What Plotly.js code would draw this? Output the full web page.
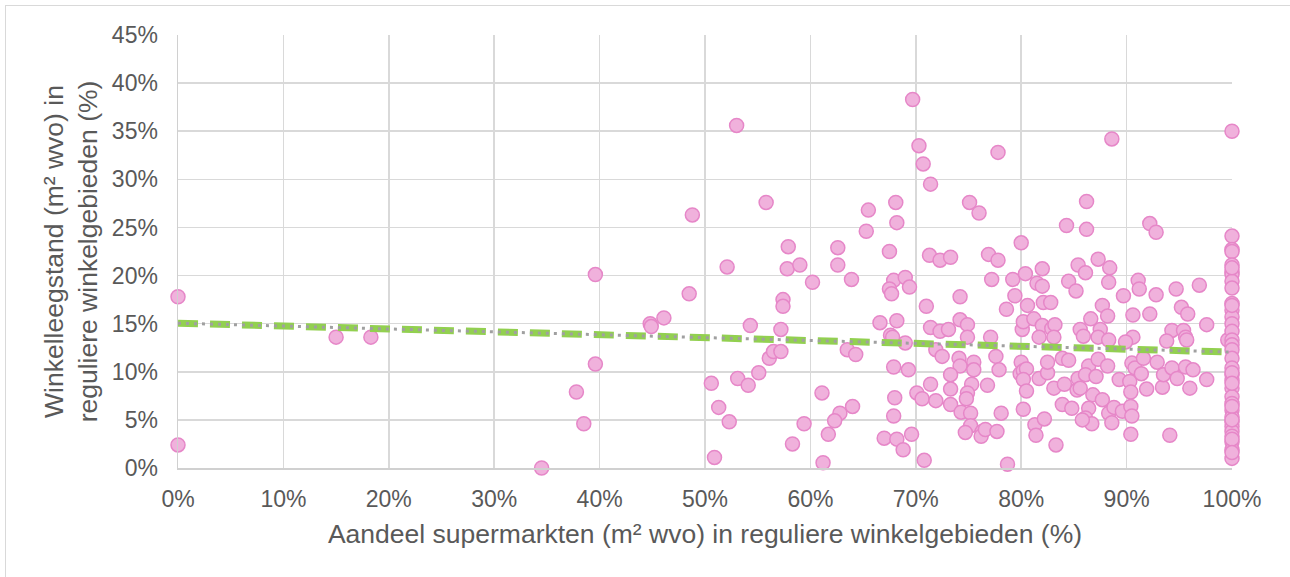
<!DOCTYPE html>
<html>
<head>
<meta charset="utf-8">
<script src="https://cdn.plot.ly/plotly-3.0.1.min.js"></script>
<style>
  html, body { margin: 0; padding: 0; background: #ffffff; }
  #frame { position: absolute; left: 5px; top: 5px; width: 1300px; height: 600px; border: 1.5px solid #d9d9d9; box-sizing: border-box; }
  #chart { position: absolute; left: 0; top: 0; width: 1290px; height: 577px; }
</style>
</head>
<body>
<div id="frame"></div>
<div id="chart"></div>
<script>
// Share of supermarkets (%) per shopping area
const aandeelSupermarkten = [
  0, 0, 15.0, 18.3,
  53.0, 48.8, 55.8,
  39.6, 52.1, 48.5, 44.8, 44.9, 46.1, 54.3, 39.6, 37.8, 38.5, 34.5, 50.6, 51.3, 52.3, 50.9, 53.1, 54.1, 55.1, 56.1, 56.5,
  69.7, 70.3, 70.7, 71.4, 77.8, 75.1, 76.0, 68.1, 68.2, 65.5, 65.3, 57.9, 62.6, 67.5,
  71.3, 72.3, 73.3, 76.9, 77.8, 57.8, 59.0, 62.6, 60.2, 63.9, 67.9, 69.0, 69.4, 67.5, 67.7, 74.2, 71.0, 77.2,
  57.4, 57.4, 57.2, 66.6, 68.2, 67.6, 67.8, 69.0, 63.5, 64.3, 57.2, 71.4, 72.3, 73.1, 74.2, 74.9, 74.9, 77.1,
  71.9, 72.5, 74.1, 74.2, 75.5, 75.5, 73.3, 77.6, 77.9, 76.8, 75.3, 73.3, 74.9, 74.8, 71.4, 70.1, 70.6, 71.9,
  73.3, 74.3, 75.2, 75.2, 74.7, 76.3, 76.2, 76.6, 77.7, 67.9, 69.3, 61.1, 68.0, 67.9, 64.0, 62.8, 62.3, 59.4,
  61.7, 58.3, 61.2, 67.0, 68.2, 69.6, 68.8, 70.8,
  80.0, 79.2, 80.4, 82.0, 81.5, 82.0, 79.4, 78.6, 80.6, 82.1, 82.8, 85.4, 86.1, 87.3, 88.4, 84.5, 85.2, 88.3,
  87.7, 88.2, 86.6, 85.6, 85.9, 87.5, 87.3, 88.3, 89.7, 91.1, 91.2, 92.8, 94.7, 96.9, 90.6, 92.2, 95.2, 95.8,
  97.6, 90.6, 89.9, 94.3, 95.4, 95.6, 95.7, 93.8, 99.6, 80.1, 80.2, 81.2, 82.0, 82.9, 83.2, 81.7, 83.1, 78.1,
  80.0, 79.9, 80.2, 80.5, 80.2, 81.7, 82.5, 82.5, 83.9, 84.5, 80.5, 83.1, 84.1, 80.2, 83.9, 84.8, 81.3, 81.4,
  82.2, 83.3, 78.7, 86.4, 87.3, 88.2, 85.4, 86.1, 87.1, 85.3, 85.6, 86.8, 87.7, 86.4, 86.1, 86.7, 88.3, 88.8,
  89.6, 88.6, 85.8, 89.3, 90.3, 90.4, 90.4, 90.5, 90.4, 90.5, 90.8, 91.4, 91.6, 92.9, 91.9, 93.4, 93.5, 94.3,
  94.8, 95.6, 96.3, 97.6, 96.0, 94.1,
  88.6, 100, 86.2, 84.3, 86.2, 92.2, 92.8, 100, 100,
  100, 100, 100, 100, 100, 100, 100, 100, 100, 100, 100, 100, 100, 100, 100,
  100, 100, 100, 100, 100, 100, 100, 100, 100, 100, 100, 100, 100, 100, 100,
  100, 100, 100, 100, 100, 100, 100, 100
];

// Vacancy (%) per shopping area
const winkelleegstand = [
  17.8, 2.4, 13.6, 13.6,
  35.6, 26.3, 27.6,
  20.1, 20.9, 18.1, 15.0, 14.7, 15.6, 14.8, 10.8, 7.9, 4.6, 0.0, 8.8, 6.3, 4.8, 1.1, 9.3, 8.6, 9.9, 11.4, 12.1,
  38.3, 33.5, 31.6, 29.5, 32.8, 27.6, 26.5, 27.6, 25.5, 26.8, 24.6, 23.0, 22.9, 22.5,
  22.1, 21.6, 21.9, 22.2, 21.6, 20.7, 21.1, 21.1, 19.3, 19.6, 19.5, 19.8, 18.8, 18.6, 18.1, 17.8, 16.8, 19.6,
  17.5, 16.8, 14.4, 15.1, 15.3, 13.8, 13.6, 13.0, 12.3, 11.8, 12.1, 14.6, 14.2, 14.4, 15.4, 14.9, 13.6, 13.6,
  12.3, 11.6, 11.4, 10.6, 11.0, 10.2, 9.7, 11.6, 10.2, 8.6, 8.7, 8.2, 7.8, 7.2, 8.7, 7.8, 7.2, 7.0,
  6.6, 5.8, 5.7, 4.4, 3.7, 3.8, 3.3, 4.0, 3.8, 10.5, 10.2, 7.8, 7.3, 5.4, 6.4, 5.7, 4.9, 4.6,
  3.5, 2.5, 0.55, 3.1, 3.0, 3.5, 1.9, 0.8,
  23.4, 19.6, 20.2, 20.7, 19.2, 18.9, 17.9, 16.5, 16.9, 17.2, 17.2, 21.1, 20.3, 21.7, 20.8, 19.4, 18.4, 19.3,
  16.9, 15.8, 15.5, 14.4, 13.7, 14.4, 13.6, 13.3, 17.9, 19.5, 18.6, 18.0, 18.6, 19.0, 15.9, 16.0, 16.7, 16.0,
  14.9, 13.6, 13.1, 14.3, 14.3, 13.6, 13.3, 13.2, 13.3, 14.4, 15.2, 15.5, 14.8, 14.5, 14.9, 13.6, 13.6, 5.7,
  11.0, 9.8, 10.1, 10.3, 9.2, 9.3, 9.9, 11.0, 11.4, 11.2, 8.0, 8.3, 8.7, 6.1, 6.6, 6.2, 4.5, 3.4,
  5.1, 2.4, 0.4, 10.6, 11.3, 10.6, 9.3, 9.7, 9.5, 8.1, 8.3, 7.6, 7.1, 6.2, 5.2, 4.6, 5.7, 6.3,
  5.9, 4.7, 5.0, 9.2, 9.0, 7.9, 6.4, 5.4, 3.5, 10.9, 10.4, 9.8, 11.4, 11.0, 8.2, 8.4, 9.7, 10.4,
  9.3, 10.5, 10.2, 9.2, 8.3, 3.4,
  34.2, 35.0, 27.7, 25.2, 24.8, 25.4, 24.5, 24.1, 22.7,
  22.5, 21.1, 20.4, 20.1, 19.4, 18.7, 17.1, 16.4, 15.7, 15.0, 14.2, 13.3, 12.8, 12.3, 11.4,
  10.4, 9.7, 9.1, 8.3, 7.4, 6.7, 6.0, 5.3, 4.8, 4.3, 3.8, 3.3, 2.7, 1.9, 1.0,
  20.8, 16.9, 9.9, 8.8, 6.4, 5.0, 3.0, 1.6
];

// Linear trendline end points
const trendX = [0, 100];
const trendY = [15.05, 12.05];

const xTitle = 'Aandeel supermarkten (m² wvo) in reguliere winkelgebieden (%)';
const yTitle = 'Winkelleegstand (m² wvo) in<br>reguliere winkelgebieden (%)';

const textColor = '#595959';
const fontFamily = '"Liberation Sans", Arial, sans-serif';

const traces = [
  {
    type: 'scatter', mode: 'markers',
    x: aandeelSupermarkten, y: winkelleegstand,
    cliponaxis: false,
    marker: { size: 14, color: '#f0b1dc', line: { color: '#e687c8', width: 1.5 } },
    hoverinfo: 'x+y', showlegend: false
  },
  {
    type: 'scatter', mode: 'lines', x: trendX, y: trendY,
    line: { color: '#92d050', width: 7, dash: '20px,12px' },
    hoverinfo: 'skip', showlegend: false
  },
  {
    type: 'scatter', mode: 'lines', x: trendX, y: trendY,
    line: { color: '#a0a0a0', width: 3, dash: '3px,5px' },
    hoverinfo: 'skip', showlegend: false
  }
];

const layout = {
  width: 1290, height: 577,
  paper_bgcolor: 'rgba(0,0,0,0)', plot_bgcolor: 'rgba(0,0,0,0)',
  margin: { l: 178, r: 58, t: 35, b: 109 },
  font: { family: fontFamily, color: textColor, size: 23 },
  showlegend: false,
  xaxis: {
    range: [0, 100], dtick: 10, ticksuffix: '%',
    showgrid: true, gridcolor: '#d9d9d9', gridwidth: 1.5,
    zeroline: false, showline: true, linecolor: '#d0d0d0', linewidth: 1.5,
    ticks: '', ticklabelstandoff: 10,
    tickfont: { family: fontFamily, color: textColor, size: 23 },
    title: { text: xTitle, font: { family: fontFamily, color: textColor, size: 26.5 }, standoff: 13 },
    automargin: false, fixedrange: true
  },
  yaxis: {
    range: [0, 45], dtick: 5, ticksuffix: '%',
    showgrid: true, gridcolor: '#d9d9d9', gridwidth: 1.5,
    zeroline: false, showline: true, linecolor: '#d0d0d0', linewidth: 1.5,
    ticks: '', ticklabelstandoff: 14,
    tickfont: { family: fontFamily, color: textColor, size: 23 },
    title: { text: yTitle, font: { family: fontFamily, color: textColor, size: 26.5 }, standoff: 6 },
    automargin: false, fixedrange: true
  }
};

Plotly.newPlot('chart', traces, layout, { displayModeBar: false, staticPlot: true });
</script>
</body>
</html>
